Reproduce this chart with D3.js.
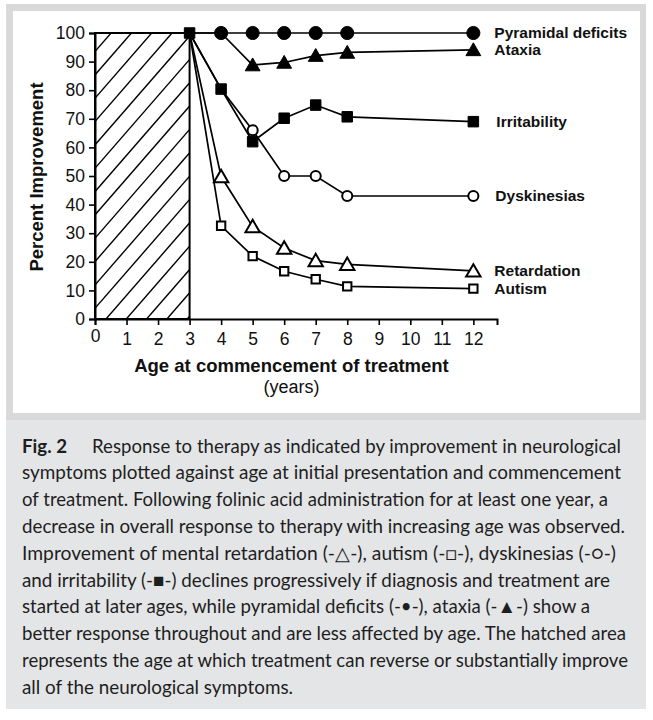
<!DOCTYPE html>
<html>
<head>
<meta charset="utf-8">
<script src="https://cdn.jsdelivr.net/npm/d3@7"></script>
<style>
  html, body { margin: 0; padding: 0; background: #ffffff; }
  svg { display: block; }
</style>
</head>
<body>
<svg id="chart" width="653" height="720"></svg>
<script>
// ---------------- data ----------------
const ages = [3, 4, 5, 6, 7, 8, 12];
const xTicks = [0, 1, 2, 3, 4, 5, 6, 7, 8, 9, 10, 11, 12];
const yTicks = [0, 10, 20, 30, 40, 50, 60, 70, 80, 90, 100];
const seriesNames = ["Pyramidal deficits", "Ataxia", "Irritability", "Dyskinesias", "Retardation", "Autism"];
const pyramidal    = [100, 100, 100, 100, 100, 100, 100];
const ataxia       = [100, 100, 88.8, 89.7, 92.1, 93.2, 94.1];
const irritability = [100, 80.4, 62, 70.2, 74.8, 70.7, 69];
const dyskinesias  = [100, 80.4, 66, 50, 50, 43, 43];
const retardation  = [100, 49.8, 32.3, 24.8, 20.4, 19.1, 16.8];
const autism       = [100, 32.6, 22, 16.7, 13.9, 11.4, 10.6];
const hatchedAges  = [0, 3];
const xAxisTitle = "Age at commencement of treatment";
const xAxisUnit = "(years)";
const yAxisTitle = "Percent Improvement";
const captionLead = "Fig. 2";
const captionLines = [
  "Response to therapy as indicated by improvement in neurological",
  "symptoms plotted against age at initial presentation and commencement",
  "of treatment. Following folinic acid administration for at least one year, a",
  "decrease in overall response to therapy with increasing age was observed.",
  "Improvement of mental retardation (-\u25B3-), autism (-\u25A1-), dyskinesias (-\u25CB-)",
  "and irritability (-\u25A0-) declines progressively if diagnosis and treatment are",
  "started at later ages, while pyramidal deficits (-\u2022-), ataxia (-\u25B2-) show a",
  "better response throughout and are less affected by age. The hatched area",
  "represents the age at which treatment can reverse or substantially improve",
  "all of the neurological symptoms."
];

// ---------------- styles / layout ----------------
const lineEnds = [621, 621, 608, 625, 616, 610, 590, 626, 628, 293];
const styles = [
  { symbol: d3.symbolCircle,   size: 135, fill: "#000", first: 1 },
  { symbol: d3.symbolTriangle, size: 95,  fill: "#000", first: 2 },
  { symbol: d3.symbolSquare,   size: 110, fill: "#000", first: 0 },
  { symbol: d3.symbolCircle,   size: 80,  fill: "#fff", first: 2 },
  { symbol: d3.symbolTriangle, size: 90,  fill: "#fff", first: 1 },
  { symbol: d3.symbolSquare,   size: 70,  fill: "#fff", first: 1 }
];
const allSeries = [pyramidal, ataxia, irritability, dyskinesias, retardation, autism];

const svg = d3.select("#chart");

// frame
svg.append("rect").attr("x", 6).attr("y", 4).attr("width", 640).attr("height", 416).attr("fill", "#d9d9d9");
svg.append("rect").attr("x", 13).attr("y", 11).attr("width", 627).attr("height", 402).attr("fill", "#ffffff");
svg.append("rect").attr("x", 6).attr("y", 420).attr("width", 640).attr("height", 289).attr("fill", "#e4e5e7");

const x = d3.scaleLinear().domain([0, 12.75]).range([95, 497]);
const y = d3.scaleLinear().domain([0, 100]).range([319, 33]);

const font = "'Liberation Sans', Arial, Helvetica, sans-serif";

// hatched area
const defs = svg.append("defs");
const hx0 = x(hatchedAges[0]), hx1 = x(hatchedAges[1]), hy0 = y(100), hy1 = y(0);
defs.append("clipPath").attr("id", "hclip").append("rect")
  .attr("x", hx0).attr("y", hy0).attr("width", hx1 - hx0).attr("height", hy1 - hy0);
const hg = svg.append("g").attr("clip-path", "url(#hclip)");
const slope = 1.15, spacing = 20.3, h = hy1 - hy0;
for (let b = 106 - spacing * 14; b < hx1 + spacing; b += spacing) {
  hg.append("line").attr("x1", b).attr("y1", hy1).attr("x2", b + h / slope).attr("y2", hy0)
    .attr("stroke", "#000").attr("stroke-width", 1.4);
}
svg.append("rect").attr("x", hx0).attr("y", hy0).attr("width", hx1 - hx0).attr("height", hy1 - hy0)
  .attr("fill", "none").attr("stroke", "#000").attr("stroke-width", 2);

// axes
const xAxis = svg.append("g").attr("transform", `translate(0,${y(0)})`)
  .call(d3.axisBottom(x).tickValues(xTicks).tickSizeOuter(0).tickSize(6).tickPadding(8).tickFormat(d3.format("d")));
const yAxis = svg.append("g").attr("transform", `translate(${x(0)},0)`)
  .call(d3.axisLeft(y).tickValues(yTicks).tickSizeOuter(0).tickSize(6).tickPadding(4).tickFormat(d3.format("d")));
[xAxis, yAxis].forEach(a => {
  a.select(".domain").attr("stroke", "#000").attr("stroke-width", 2);
  a.selectAll(".tick line").attr("stroke", "#000").attr("stroke-width", 1.6);
  a.selectAll(".tick text").attr("fill", "#111").style("font-family", font).style("font-size", "17.5px");
});
xAxis.selectAll(".tick text").filter(d => d === 0).attr("dy", "0.5em");

// series
const line = d3.line().x((d, i) => x(ages[i])).y(d => y(d));
allSeries.forEach((s, k) => {
  svg.append("path").datum(s).attr("d", line).attr("fill", "none")
    .attr("stroke", "#000").attr("stroke-width", 1.7);
});
// markers
[5, 4, 3, 1, 2, 0].forEach(k => {
  const s = allSeries[k], st = styles[k];
  const sym = d3.symbol().type(st.symbol).size(st.size);
  svg.append("g").selectAll("path").data(s.map((v, i) => ({ v, i })).filter(d => d.i >= st.first))
    .join("path")
    .attr("d", sym)
    .attr("transform", d => `translate(${x(ages[d.i])},${y(d.v) + (st.symbol === d3.symbolTriangle ? 1.5 : 0)})`)
    .attr("fill", st.fill).attr("stroke", "#000").attr("stroke-width", st.fill === "#fff" ? 2 : 1);
});

// series labels
const labelDx = [21, 21, 23, 22, 21, 21];
allSeries.forEach((s, k) => {
  svg.append("text").attr("x", x(ages[ages.length - 1]) + labelDx[k]).attr("y", y(s[s.length - 1]))
    .attr("dy", "0.35em").style("font-family", font).style("font-size", "15.5px").style("font-weight", "bold")
    .attr("fill", "#111").text(seriesNames[k]);
});

// axis titles
svg.append("text").attr("x", 291.5).attr("y", 372).attr("text-anchor", "middle")
  .style("font-family", font).style("font-size", "18.5px").style("font-weight", "bold").attr("fill", "#111").text(xAxisTitle);
svg.append("text").attr("x", 291.5).attr("y", 393).attr("text-anchor", "middle")
  .style("font-family", font).style("font-size", "18px").attr("fill", "#111").text(xAxisUnit);
svg.append("text").attr("transform", `translate(43,${(y(0) + y(100)) / 2 + 1}) rotate(-90)`).attr("text-anchor", "middle")
  .style("font-family", font).style("font-size", "18.5px").style("font-weight", "bold").attr("fill", "#111").text(yAxisTitle);

// caption
const capFont = "Lato, 'Open Sans', sans-serif";
const capY0 = 452.5, capStep = 26.8;
svg.append("text").attr("x", 22).attr("y", capY0).attr("textLength", 45).attr("lengthAdjust", "spacingAndGlyphs")
  .style("font-family", capFont).style("font-size", "19px").style("font-weight", "bold").attr("fill", "#1e1e1e").text(captionLead);
captionLines.forEach((t, i) => {
  const x0 = i === 0 ? 92 : 22;
  svg.append("text").attr("x", x0).attr("y", capY0 + i * capStep)
    .attr("textLength", lineEnds[i] - x0).attr("lengthAdjust", "spacingAndGlyphs")
    .style("font-family", capFont).style("font-size", "19px").attr("fill", "#1e1e1e").text(t);
});
</script>
</body>
</html>
